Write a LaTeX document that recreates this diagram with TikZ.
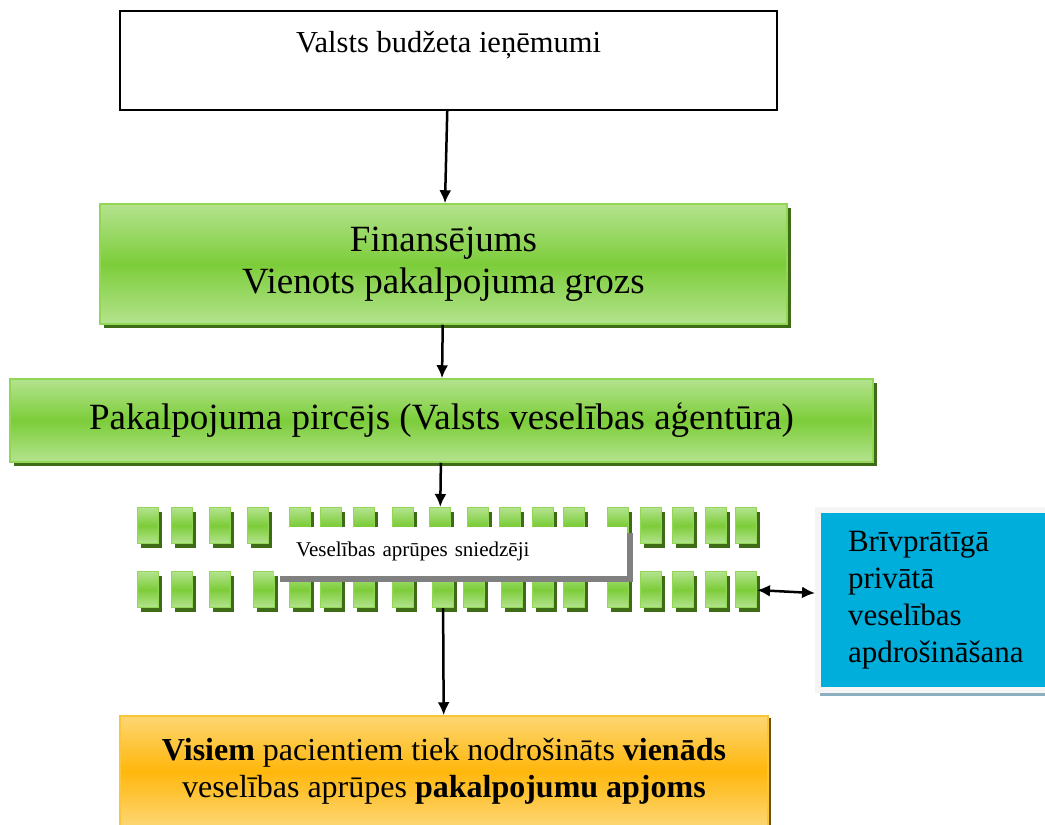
\documentclass[tikz,border=0pt]{standalone}
\usepackage{fontspec}
\setmainfont{Liberation Serif}
\usepackage{tikz}
\usetikzlibrary{positioning, arrows.meta, shadows}
\definecolor{gLight}{RGB}{180,227,142}
\definecolor{gMid}{RGB}{124,205,58}
\definecolor{gLine}{RGB}{146,214,85}
\definecolor{gShadow}{RGB}{61,107,22}
\definecolor{oLight}{RGB}{253,214,115}
\definecolor{oMid}{RGB}{255,183,12}
\definecolor{oLine}{RGB}{250,198,55}
\definecolor{oShadow}{RGB}{110,80,10}
\definecolor{bFill}{RGB}{0,174,219}
\definecolor{bShadow}{RGB}{140,176,192}
\tikzset{% 
	link/.style = {line width=2.5pt, -{Latex[length=13pt, width=12pt]}},
	both/.style = {line width=2.5pt, {Latex[length=13pt, width=12pt]}-{Latex[length=13pt, width=12pt]}},
	src/.style = {draw, line width=1.2pt, fill=white, minimum width=657pt, minimum height=99pt, align=center, font=\fontsize{30.5}{37}\selectfont},
	greenbox/.style = {draw=gLine, line width=1.5pt, top color=gLight, bottom color=gLight, middle color=gMid, drop shadow={shadow xshift=4pt, shadow yshift=-4pt, fill=gShadow, opacity=1}, align=center, font=\fontsize{37}{42}\selectfont},
	cell/.style = {draw=gLine, line width=1pt, top color=gLight, bottom color=gLight, middle color=gMid, drop shadow={shadow xshift=3pt, shadow yshift=-4pt, fill=gShadow, opacity=1}, minimum width=21pt, minimum height=36pt, inner sep=0pt, anchor=north west},
	note/.style = {fill=white, drop shadow={shadow xshift=6pt, shadow yshift=-6pt, fill=black!50, opacity=1}, minimum width=353pt, minimum height=49pt, text width=309pt, inner xsep=22pt, align=left, anchor=north west, font=\fontsize{21}{25}\selectfont},
	ins/.style = {fill=bFill, draw=gray!8, line width=6pt, drop shadow={shadow xshift=2pt, shadow yshift=-6pt, fill=bShadow, opacity=1}, minimum width=260pt, minimum height=180pt, text width=200pt, inner xsep=28pt, align=left, anchor=north west, font=\fontsize{31}{37}\selectfont},
	resbox/.style = {draw=oLine, line width=1.5pt, top color=oLight, bottom color=oLight, middle color=oMid, drop shadow={shadow xshift=3pt, shadow yshift=-2pt, fill=oShadow, opacity=1}, minimum width=648pt, minimum height=110pt, align=center, font=\fontsize{32}{37}\selectfont}
}
\begin{document}
\begin{tikzpicture}[x=1pt, y=-1pt]
	\useasboundingbox (0,0) rectangle (1045,825);
	\clip (0,0) rectangle (1045,825);
	\node [src] (top) at (448.5,60.5) {Valsts budžeta ieņēmumi\\\mbox{}};
	\node [greenbox, minimum width=687pt, minimum height=120pt] (fin) at (443.5,264) {Finansējums\\Vienots pakalpojuma grozs};
	\node [greenbox, minimum width=863pt, minimum height=83pt] (pay) at (441.5,420.5) {Pakalpojuma pircējs (Valsts veselības aģentūra)};
	% providers
	\foreach \x [count=\i] in {137,171,209,247,289,320,353,392,429,467,499,532,563,607,640,672,705,735}
		\node [cell] (t\i) at (\x,507) {};
	\foreach \x [count=\i] in {137,171,209,253,289,320,353,392,432,463,501,532,563,607,640,672,705,735}
		\node [cell] (b\i) at (\x,571) {};
	\node [note] (care) at (274,527) {Veselības aprūpes sniedzēji};
	\node [ins] (priv) at (815,507) {Brīvprātīgā\\privātā\\veselības\\apdrošināšana};
	\node [resbox] (res) at (444,771) {\textbf{Visiem} pacientiem tiek nodrošināts \textbf{vienāds}\\veselības aprūpes \textbf{pakalpojumu apjoms}};
	\draw [link] (top) -- (fin);
	\draw [link] (fin) -- (pay);
	\draw [link] (pay) -- (t9);
	\draw [link] (b9) -- (res);
	\draw [both] (b18) -- (priv);
\end{tikzpicture}
\end{document}
